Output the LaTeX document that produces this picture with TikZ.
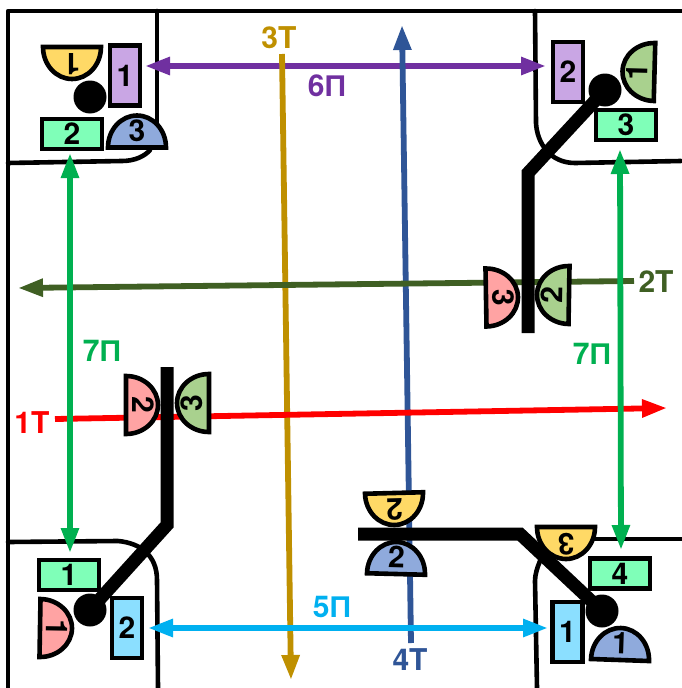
\documentclass[tikz,border=0pt]{standalone}
\usepackage{fontspec}
\setmainfont{TeX Gyre Heros}
\newfontfamily\cyrfont{Liberation Sans}
\usetikzlibrary{arrows.meta}
\definecolor{cpurple}{HTML}{7030A0}
\definecolor{cgold}{HTML}{BF9000}
\definecolor{cblue}{HTML}{2F5597}
\definecolor{cred}{HTML}{FF0000}
\definecolor{cdgreen}{HTML}{3F5F23}
\definecolor{cgreen}{HTML}{00B050}
\definecolor{ccyan}{HTML}{00B0F0}
\definecolor{fpurple}{HTML}{C9A6E4}
\definecolor{fmint}{HTML}{7FFFB8}
\definecolor{fcyan}{HTML}{8BDFFF}
\definecolor{fyellow}{HTML}{FFD966}
\definecolor{fblue}{HTML}{8FAADC}
\definecolor{fgreen}{HTML}{A9D18E}
\definecolor{fred}{HTML}{FFA3A3}
\tikzset{
  lbl/.style={font=\fontsize{30}{30}\selectfont\bfseries,inner sep=0pt},
  curb/.style={draw=black,line width=4.6pt,line cap=round,line join=round},
  pole/.style={draw=black,line width=13pt,line join=miter},
  hub/.style={circle,fill=black,minimum size=33pt,inner sep=0pt},
  tlight/.style={draw=black,line width=4.6pt,minimum width=#1,inner sep=0pt,font=\fontsize{30}{30}\selectfont\bfseries},
  vbox/.style={tlight=30pt,minimum height=60pt},
  hbox/.style={tlight=60pt,minimum height=30pt},
  flow/.style={line width=5.8pt,-{Triangle[length=25pt,width=17pt]}},
  both/.style={line width=5.8pt,{Triangle[length=25pt,width=17pt]}-{Triangle[length=25pt,width=17pt]}},
}
% name, x, y, angle, fill, digit
\newcommand{\halfd}[6]{%
  \begin{scope}[shift={(#2,#3)},rotate=#4]
    \draw[line width=4.6pt,line join=miter,fill=#5] (29,0) arc[start angle=0,end angle=180,x radius=29pt,y radius=32pt] -- cycle;
    \node[lbl,transform shape] (#1) at (0,-17) {#6};
  \end{scope}}
\newcommand{\cyrP}{{\cyrfont\bfseries П}}
\begin{document}
\begin{tikzpicture}[x=1pt,y=-1pt]
\path[use as bounding box,fill=white] (0,0) rectangle (681,688);
% kerbs
\draw[curb] (8,688) -- (8,11) -- (681,11);
\draw[curb] (157,11) -- (157,125);
\draw[curb] (8,163) -- (122,161) .. controls (135,161) and (145,156) .. (150,150);
\draw[curb] (535,11) -- (536,123) .. controls (537,143) and (550,163) .. (575,163) -- (681,161);
\draw[curb] (8,542) -- (118,541) .. controls (140,543) and (157,555) .. (157,580) -- (158,688);
\draw[curb] (537,688) -- (535,581) .. controls (535,575) and (537,568) .. (540,561);
\draw[curb] (590,539) -- (681,539);
% arrow ends
\coordinate (pa) at (145,66);   \coordinate (pb) at (546,66);
\coordinate (ga) at (282,54);   \coordinate (gb) at (291,680);
\coordinate (ba) at (411,643);  \coordinate (bb) at (402,25);
\coordinate (da) at (634,281);  \coordinate (db) at (18,288);
\coordinate (ra) at (55,419);   \coordinate (rb) at (667,408);
\coordinate (la) at (70,153);   \coordinate (lb) at (70,553);
\coordinate (ma) at (620,149);  \coordinate (mb) at (621,550);
\coordinate (ca) at (148,628);  \coordinate (cb) at (548,628);
% arrows
\draw[both,cpurple] (pa) -- (pb);
\draw[flow,cgold] (ga) -- (gb);
\draw[flow,cblue] (ba) -- (bb);
\draw[flow,cdgreen] (da) -- (db);
\draw[flow,cred] (ra) -- (rb);
\draw[both,cgreen] (la) -- (lb);
\draw[both,cgreen] (ma) -- (mb);
\draw[both,ccyan] (ca) -- (cb);
% poles and hubs
\node[hub] (h1) at (90,97) {};
\node[hub] (h2) at (605,90) {};
\node[hub] (h3) at (90,610) {};
\node[hub] (h4) at (602,611) {};
\draw[pole] (h2.center) -- (528,173) -- (528,333);
\draw[pole] (h3.center) -- (167,525) -- (167,367);
\draw[pole] (h4.center) -- (520,534) -- (358,534);
% half discs
\halfd{y1}{72}{47}{180}{fyellow}{1}
\halfd{b3}{137}{147.5}{0}{fblue}{3}
\halfd{g1}{654.5}{72}{88.5}{fgreen}{1}
\halfd{r3}{486}{297.5}{-89}{fred}{3}
\halfd{g2}{569}{295}{89}{fgreen}{2}
\halfd{r2}{126}{405}{-90}{fred}{2}
\halfd{g3}{209}{403}{90}{fgreen}{3}
\halfd{r1}{40}{628}{-91}{fred}{1}
\halfd{y2}{394}{493}{181.5}{fyellow}{2}
\halfd{b2}{396}{574}{-1.5}{fblue}{2}
\halfd{y3}{566}{527}{180}{fyellow}{3}
\halfd{b1}{620}{660}{-2}{fblue}{1}
% boxes
\node[vbox,fill=fpurple] (tlp) at (125,75.5) {1};
\node[hbox,fill=fmint] (tlg) at (72,134) {2};
\node[vbox,fill=fpurple] (trp) at (568,72) {2};
\node[hbox,fill=fmint] (trg) at (626,125) {3};
\node[hbox,fill=fmint] (blg) at (69,575) {1};
\node[vbox,fill=fcyan] (blb) at (127,628) {2};
\node[hbox,fill=fmint] (brg) at (620,573.5) {4};
\node[vbox,fill=fcyan] (brb) at (567.5,632) {1};
% labels
\node[lbl,text=cgold] (l3t) at (279,38) {3T};
\node[lbl,text=cpurple] (l6p) at (327,86) {6\cyrP};
\node[lbl,text=ccyan] (l5p) at (332,607) {5\cyrP};
\node[lbl,text=cblue] (l4t) at (410,660) {4T};
\node[lbl,text=cred] (l1t) at (32,423) {1T};
\node[lbl,text=cdgreen] (l2t) at (656,282) {2T};
\node[lbl,text=cgreen] (l7a) at (102,351) {7\cyrP};
\node[lbl,text=cgreen] (l7b) at (592,354) {7\cyrP};
\end{tikzpicture}
\end{document}
